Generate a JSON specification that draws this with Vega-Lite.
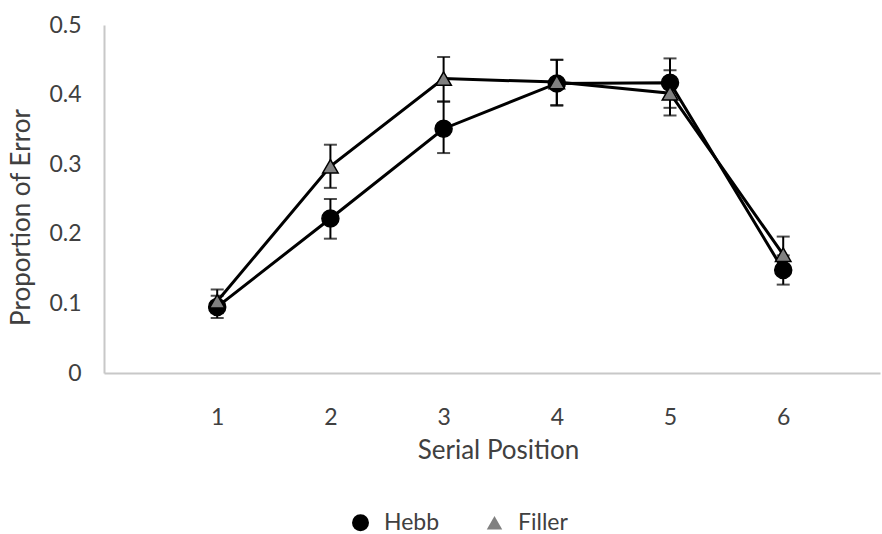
{
  "$schema": "https://vega.github.io/schema/vega-lite/v6.json",
  "width": 776,
  "height": 348,
  "autosize": {"type": "none"},
  "padding": {"left": 104, "top": 25, "right": 2, "bottom": 161},
  "background": "white",
  "config": {
    "view": {"stroke": null},
    "font": "Lato",
    "axis": {"labelFont": "Lato", "titleFont": "Lato", "labelColor": "#404040", "titleColor": "#404040", "labelFontSize": 23, "titleFontSize": 26, "titleFontWeight": "normal", "grid": false, "ticks": false, "domainColor": "#c8c8c8", "domainWidth": 2},
    "legend": {
      "title": null, "orient": "none", "direction": "horizontal", "legendX": 245, "legendY": 486, "padding": 0,
      "symbolSize": 289, "symbolStrokeColor": "black", "symbolStrokeWidth": 1.5, "labelOffset": 12, "columnPadding": 43,
      "labelFont": "Lato", "labelFontSize": 23, "labelColor": "#404040"
    }
  },
  "data": {
    "values": [
      {"pos": 1, "series": "Hebb", "value": 0.095, "lo": 0.079, "hi": 0.111},
      {"pos": 2, "series": "Hebb", "value": 0.222, "lo": 0.193, "hi": 0.250},
      {"pos": 3, "series": "Hebb", "value": 0.351, "lo": 0.316, "hi": 0.390},
      {"pos": 4, "series": "Hebb", "value": 0.416, "lo": 0.384, "hi": 0.450},
      {"pos": 5, "series": "Hebb", "value": 0.417, "lo": 0.381, "hi": 0.452},
      {"pos": 6, "series": "Hebb", "value": 0.148, "lo": 0.127, "hi": 0.169},
      {"pos": 1, "series": "Filler", "value": 0.103, "lo": 0.086, "hi": 0.120},
      {"pos": 2, "series": "Filler", "value": 0.297, "lo": 0.266, "hi": 0.328},
      {"pos": 3, "series": "Filler", "value": 0.423, "lo": 0.390, "hi": 0.454},
      {"pos": 4, "series": "Filler", "value": 0.418, "lo": 0.385, "hi": 0.450},
      {"pos": 5, "series": "Filler", "value": 0.402, "lo": 0.370, "hi": 0.435},
      {"pos": 6, "series": "Filler", "value": 0.170, "lo": 0.144, "hi": 0.196}
    ]
  },
  "encoding": {
    "x": {"field": "pos", "type": "quantitative", "scale": {"domain": [0, 6.855], "nice": false, "zero": false},
      "axis": {"values": [1, 2, 3, 4, 5, 6], "title": "Serial Position", "labelPadding": 33, "titleX": 394, "titleY": 64}}
  },
  "layer": [
    {
      "mark": {"type": "rule", "color": "black", "strokeWidth": 2},
      "encoding": {
        "y": {"field": "lo", "type": "quantitative", "scale": {"domain": [0, 0.5], "nice": false},
          "axis": {"values": [0, 0.1, 0.2, 0.3, 0.4, 0.5], "format": ".1~f", "title": "Proportion of Error", "labelPadding": 23, "titleX": -70, "titleY": 192}},
        "y2": {"field": "hi"},
        "detail": {"field": "series"}
      }
    },
    {
      "mark": {"type": "tick", "color": "black", "size": 13, "thickness": 2, "orient": "horizontal"},
      "encoding": {"y": {"field": "lo", "type": "quantitative"}, "detail": {"field": "series"}}
    },
    {
      "mark": {"type": "tick", "color": "black", "size": 13, "thickness": 2, "orient": "horizontal"},
      "encoding": {"y": {"field": "hi", "type": "quantitative"}, "detail": {"field": "series"}}
    },
    {
      "mark": {"type": "line", "color": "black", "strokeWidth": 3},
      "encoding": {"y": {"field": "value", "type": "quantitative"}, "detail": {"field": "series"}}
    },
    {
      "mark": {"type": "point", "filled": true, "stroke": "black", "strokeWidth": 1.5, "opacity": 1},
      "encoding": {
        "y": {"field": "value", "type": "quantitative"},
        "order": {"field": "pos"},
        "shape": {"field": "series", "type": "nominal", "scale": {"domain": ["Hebb", "Filler"], "range": ["circle", "triangle-up"]}},
        "fill": {"field": "series", "type": "nominal", "scale": {"domain": ["Hebb", "Filler"], "range": ["black", "#808080"]}},
        "size": {"field": "series", "type": "nominal", "scale": {"domain": ["Hebb", "Filler"], "range": [289, 240]}}
      }
    }
  ]
}
